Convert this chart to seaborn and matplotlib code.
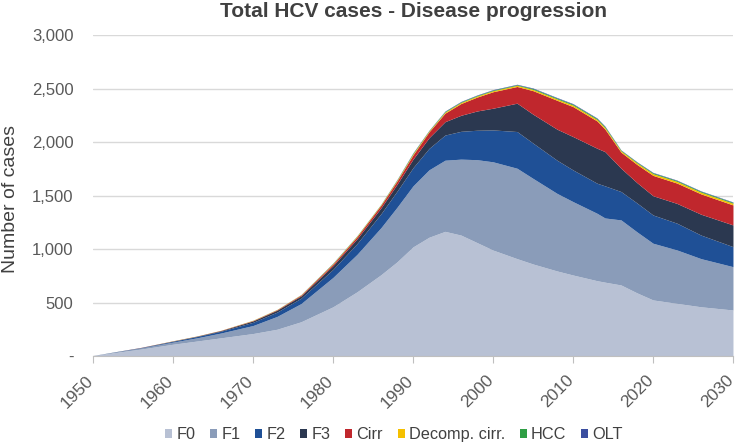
import numpy as np
import pandas as pd
import seaborn as sns
import matplotlib.pyplot as plt
import matplotlib.transforms as mtransforms
from matplotlib.ticker import FuncFormatter
from matplotlib.patches import Patch

# values
years = [1950, 1953, 1956, 1960, 1963, 1966, 1970, 1973, 1976, 1980, 1983, 1986, 1988,
         1990, 1992, 1994, 1996, 1998, 2000, 2003, 2005, 2008, 2010, 2013, 2014, 2016,
         2018, 2020, 2023, 2026, 2030]
f0 = [5, 35, 65, 110, 140, 170, 210, 250, 320, 460, 600, 760, 880,
      1020, 1110, 1165, 1130, 1060, 990, 910, 860, 795, 757, 704, 690, 664,
      590, 524, 492, 460, 430]
f1 = [0, 5, 10, 20, 30, 45, 75, 120, 170, 275, 350, 440, 510,
      570, 630, 665, 710, 775, 825, 845, 800, 725, 686, 630, 600, 608,
      570, 530, 499, 450, 405]
f2 = [0, 2, 3, 8, 12, 17, 30, 40, 50, 75, 100, 130, 150,
      170, 200, 235, 260, 275, 298, 343, 330, 310, 296, 281, 300, 265,
      270, 264, 250, 220, 187]
f3 = [0, 1, 2, 3, 4, 6, 13, 18, 22, 35, 45, 55, 65,
      80, 100, 125, 150, 180, 203, 265, 270, 290, 312, 327, 320, 218,
      190, 180, 185, 195, 203]
cirr = [0, 0, 1, 1, 1, 2, 4, 5, 8, 15, 20, 25, 30,
        40, 55, 80, 110, 130, 154, 156, 220, 270, 280, 255, 210, 150,
        170, 190, 190, 190, 187]
decomp = [0, 0, 0, 1, 1, 1, 2, 2, 3, 5, 6, 6, 8,
          10, 8, 10, 10, 10, 10, 11, 12, 13, 14, 14, 14, 12,
          14, 16, 16, 16, 16]
hcc = [0, 0, 0, 0, 0, 0, 1, 1, 1, 3, 3, 3, 4,
       6, 4, 6, 6, 6, 6, 6, 8, 8, 9, 9, 9, 6,
       7, 8, 8, 8, 8]
olt = [0, 0, 0, 0, 0, 0, 0, 0, 1, 2, 1, 1, 3,
       4, 3, 4, 4, 4, 4, 4, 5, 5, 5, 5, 5, 3,
       4, 4, 4, 4, 4]

labels = ['F0', 'F1', 'F2', 'F3', 'Cirr', 'Decomp. cirr.', 'HCC', 'OLT']
colors = ['#b8c1d4', '#8a9cb9', '#1f5096', '#2b3850', '#c0272d', '#f5c000', '#2e9e44', '#3b4ea0']

df = pd.DataFrame({'year': years, 'F0': f0, 'F1': f1, 'F2': f2, 'F3': f3,
                   'Cirr': cirr, 'Decomp. cirr.': decomp, 'HCC': hcc, 'OLT': olt})

sns.set_style('white')
plt.rcParams['font.family'] = ['Liberation Sans', 'DejaVu Sans']

fig = plt.figure(figsize=(7.36, 4.45), dpi=100)
ax = fig.add_axes([0.1264, 0.2, 0.8695, 0.7213])

ax.stackplot(df['year'], [df[c] for c in labels], colors=colors, linewidth=0)

ax.set_xlim(1950, 2030)
ax.set_ylim(0, 3000)
ax.set_yticks(range(0, 3001, 500))
ax.yaxis.set_major_formatter(FuncFormatter(lambda v, p: '-' if v == 0 else f'{int(v):,}'))
ax.set_xticks(range(1950, 2031, 10))
ax.yaxis.grid(True, color='#d9d9d9', linewidth=1)
ax.set_axisbelow(True)
for s in ['top', 'right', 'left']:
    ax.spines[s].set_visible(False)
ax.spines['bottom'].set_color('#bfbfbf')
ax.tick_params(axis='y', length=0, pad=14, labelsize=12, labelcolor='#595959')
ax.tick_params(axis='x', length=5, color='#bfbfbf', direction='out', labelsize=12.5,
               labelcolor='#595959', bottom=True, pad=7, labelrotation=45)
shift = mtransforms.ScaledTranslation(-7 / 100, 0, fig.dpi_scale_trans)
for t in ax.get_xticklabels():
    t.set_ha('right')
    t.set_va('top')
    t.set_rotation_mode('anchor')
    t.set_transform(t.get_transform() + shift)

ax.set_ylabel('Number of cases', fontsize=14, color='#404040')
ax.yaxis.set_label_coords(-0.1156, 0.49)
ax.set_title('Total HCV cases - Disease progression', fontsize=15, fontweight='bold',
             color='#404040', pad=13)

handles = [Patch(facecolor=c, edgecolor='none') for c in colors]
fig.legend(handles, labels, loc='center', bbox_to_anchor=(394 / 736, 0.0225), ncol=8,
           frameon=False, fontsize=11.7, handlelength=0.43, handleheight=0.43,
           handletextpad=0.25, columnspacing=0.92, labelcolor='#404040',
           borderpad=0.2)

fig.savefig('out.png', dpi=100)
